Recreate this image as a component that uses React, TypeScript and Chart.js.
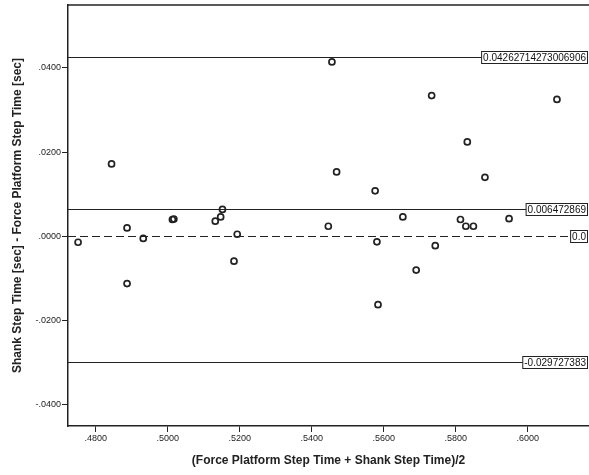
import React, { useEffect, useRef } from "react";
import { Chart, registerables } from "chart.js";

Chart.register(...registerables);

const meanX: number[] = [
  0.4751, 0.4844, 0.4887, 0.4932, 0.4887, 0.5013, 0.5017, 0.5132, 0.5147, 0.5152,
  0.5193, 0.5184, 0.5456, 0.5469, 0.5446, 0.5576, 0.5653, 0.5733, 0.5832, 0.5881,
  0.5813, 0.5828, 0.5849, 0.5948, 0.6081, 0.5581, 0.5743, 0.5690, 0.5584,
];
const diffY: number[] = [
  -0.0014, 0.0172, 0.0020, -0.0005, -0.0112, 0.0040, 0.0041, 0.0036, 0.0046, 0.0064,
  0.0005, -0.0059, 0.0414, 0.0153, 0.0024, 0.0108, 0.0046, 0.0334, 0.0224, 0.0140,
  0.0040, 0.0024, 0.0024, 0.0042, 0.0325, -0.0013, -0.0022, -0.0080, -0.0162,
];
const refValues: number[] = [0.04262714273006906, 0.006472869, 0, -0.029727383];
const refLabels: string[] = ["0.04262714273006906", "0.006472869", "0.0", "-0.029727383"];
const refDashed: boolean[] = [false, false, true, false];
const xTicks: number[] = [0.48, 0.5, 0.52, 0.54, 0.56, 0.58, 0.6];
const yTicks: number[] = [-0.04, -0.02, 0, 0.02, 0.04];
const xTitle = "(Force Platform Step Time + Shank Step Time)/2";
const yTitle = "Shank Step Time [sec] - Force Platform Step Time [sec]";

const fmt = (v: number) => {
  const s = Math.abs(v).toFixed(4).replace(/^0/, "");
  return (v < -1e-9 ? "-" : "") + s;
};

const FONT = "'Liberation Sans', Arial, sans-serif";

const refPlugin = {
  id: "refLines",
  afterDatasetsDraw(chart: any) {
    const { ctx, chartArea } = chart;
    const y = chart.scales.y;
    ctx.save();
    // top frame
    ctx.strokeStyle = "#222";
    ctx.lineWidth = 1.5;
    ctx.beginPath();
    ctx.moveTo(chartArea.left, chartArea.top);
    ctx.lineTo(chart.width, chartArea.top);
    ctx.stroke();
    ctx.font = `10px ${FONT}`;
    refValues.forEach((v, i) => {
      const py = Math.round(y.getPixelForValue(v)) + 0.5;
      const label = refLabels[i];
      const tw = ctx.measureText(label).width;
      const right = chart.width - 1.5;
      const boxW = tw + 3;
      const boxL = right - boxW;
      ctx.strokeStyle = "#222";
      ctx.lineWidth = 1;
      ctx.setLineDash(refDashed[i] ? [8, 4] : []);
      ctx.beginPath();
      ctx.moveTo(chartArea.left, py);
      ctx.lineTo(boxL, py);
      ctx.stroke();
      ctx.setLineDash([]);
      ctx.fillStyle = "#fff";
      ctx.fillRect(boxL, py - 6, boxW, 12);
      ctx.strokeRect(boxL, py - 6, boxW, 12);
      ctx.fillStyle = "#111";
      ctx.textBaseline = "middle";
      ctx.textAlign = "left";
      ctx.fillText(label, boxL + 1.5, py + 0.5);
    });
    ctx.restore();
  },
};

export default function App() {
  const ref = useRef<HTMLCanvasElement>(null);
  useEffect(() => {
    document.body.style.margin = "0";
    const canvas = ref.current!;
    const chart = new Chart(canvas, {
      type: "scatter",
      data: {
        datasets: [
          {
            data: meanX.map((x, i) => ({ x, y: diffY[i] })),
            pointRadius: 3,
            pointBorderWidth: 1.7,
            borderColor: "#222",
            backgroundColor: "rgba(255,255,255,0)",
            pointHoverRadius: 3,
          },
        ],
      },
      options: {
        animation: false,
        responsive: false,
        events: [],
        layout: { autoPadding: false, padding: { top: 5, right: 0, left: 0, bottom: 0 } },
        plugins: { legend: { display: false }, tooltip: { enabled: false } },
        scales: {
          x: {
            type: "linear",
            min: 0.4723,
            max: 0.617,
            afterBuildTicks: (s: any) => {
              s.ticks = xTicks.map((value) => ({ value }));
            },
            afterFit: (s: any) => {
              s.height = 49;
              s.paddingLeft = 0;
              s.paddingRight = 0;
            },
            grid: { drawOnChartArea: false, drawTicks: true, tickLength: 6, color: "#222", lineWidth: 1 },
            border: { display: true, color: "#222", width: 1.5 },
            ticks: {
              callback: (v: any) => fmt(Number(v)),
              font: { family: FONT, size: 9 },
              color: "#222",
              padding: 1,
              maxRotation: 0,
            },
            title: {
              display: true,
              text: xTitle,
              font: { family: FONT, size: 12, weight: "bold" },
              color: "#222",
              padding: { top: 0, bottom: 7 },
            },
          },
          y: {
            type: "linear",
            min: -0.045,
            max: 0.0549,
            afterBuildTicks: (s: any) => {
              s.ticks = yTicks.map((value) => ({ value }));
            },
            afterFit: (s: any) => {
              s.width = 68;
              s.paddingTop = 0;
              s.paddingBottom = 0;
            },
            grid: { drawOnChartArea: false, drawTicks: true, tickLength: 6, color: "#222", lineWidth: 1 },
            border: { display: true, color: "#222", width: 1.5 },
            ticks: {
              callback: (v: any) => fmt(Number(v)),
              font: { family: FONT, size: 9 },
              color: "#222",
              padding: 1,
            },
            title: {
              display: true,
              text: yTitle,
              font: { family: FONT, size: 12, weight: "bold" },
              color: "#222",
              padding: { top: 10, bottom: 0 },
            },
          },
        },
      },
      plugins: [refPlugin],
    });
    return () => chart.destroy();
  }, []);
  return (
    <canvas ref={ref} width={589} height={475} style={{ display: "block", width: 589, height: 475 }} />
  );
}
